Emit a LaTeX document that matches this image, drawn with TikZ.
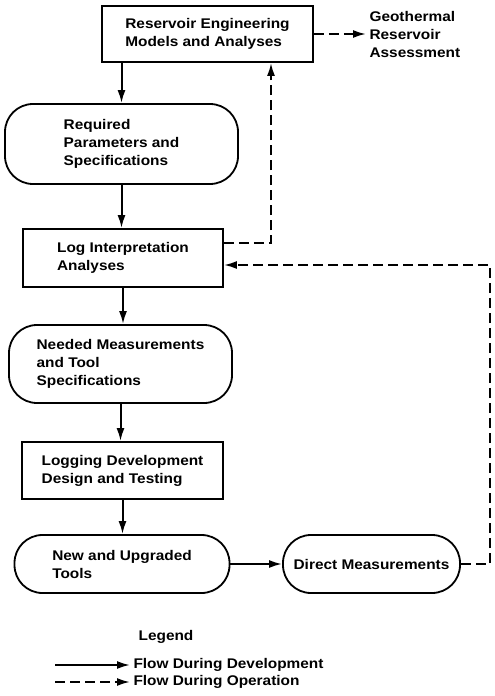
\documentclass[tikz,border=0pt]{standalone}
\usepackage{fontspec}
\setmainfont{Liberation Sans}[FakeStretch=1.1]
\usetikzlibrary{arrows.meta,positioning,calc}

\begin{document}
\begin{tikzpicture}[x=1bp,y={(0,-1bp)},
  every node/.style={font=\fontsize{14bp}{18bp}\selectfont\bfseries},
  box/.style={draw,line width=1.8bp,align=left,inner sep=0pt},
  pill/.style={box,rounded corners=28bp},
  flow/.style={line width=2bp,-{Latex[length=13bp,width=8bp]}},
  oper/.style={flow,dash pattern=on 10bp off 5bp}]
\useasboundingbox (0,0) rectangle (495,696);
\node[box,minimum width=211bp,minimum height=56bp] (models) at (207.5,34) {Reservoir Engineering\\Models and Analyses};
\node[anchor=west,align=left] (assess) at (366,34) {Geothermal\\Reservoir\\Assessment};
\node[pill,minimum width=233bp,minimum height=80bp] (params) at (121.5,144) {Required\\Parameters and\\Specifications};
\node[box,minimum width=200bp,minimum height=58bp] (interp) at (123,258) {Log Interpretation\\Analyses};
\node[pill,minimum width=223bp,minimum height=78bp] (needs) at (120.5,364) {Needed Measurements\\and Tool\\Specifications};
\node[box,minimum width=201bp,minimum height=57bp] (design) at (122.5,470.5) {Logging Development\\Design and Testing};
\node[pill,minimum width=215bp,minimum height=58bp] (tools) at (122,564) {New and Upgraded\\Tools};
\node[pill,minimum width=177bp,minimum height=58bp] (direct) at (371.5,564) {Direct Measurements};
% development flow
\draw[flow] (models.south -| params.north) -- (params.north);
\foreach \from/\to in {params/interp,interp/needs,needs/design,design/tools}{
  \draw[flow] (\from.south) -- (\to.north -| \from.south);
}
\draw[flow] (tools.east) -- (direct.west);
% operation flow
\draw[oper] (models.east) -- (assess.west);
\draw[oper] ([yshift=15bp]interp.east) -| (models.south -| 271,0);
\draw[oper] (direct.east) -- (direct.east -| 490,0) |- ([yshift=-7bp]interp.east);
% legend
\node (legend) at (166,637) {Legend};
\node[anchor=west] (devflow) at (130,665) {Flow During Development};
\node[anchor=west] (opflow) at (130,682) {Flow During Operation};
\coordinate (devstart) at (55,665);
\coordinate (opstart) at (55,682);
\draw[flow] (devstart) -- (devflow.west);
\draw[oper] (opstart) -- (opflow.west);
\end{tikzpicture}
\end{document}
